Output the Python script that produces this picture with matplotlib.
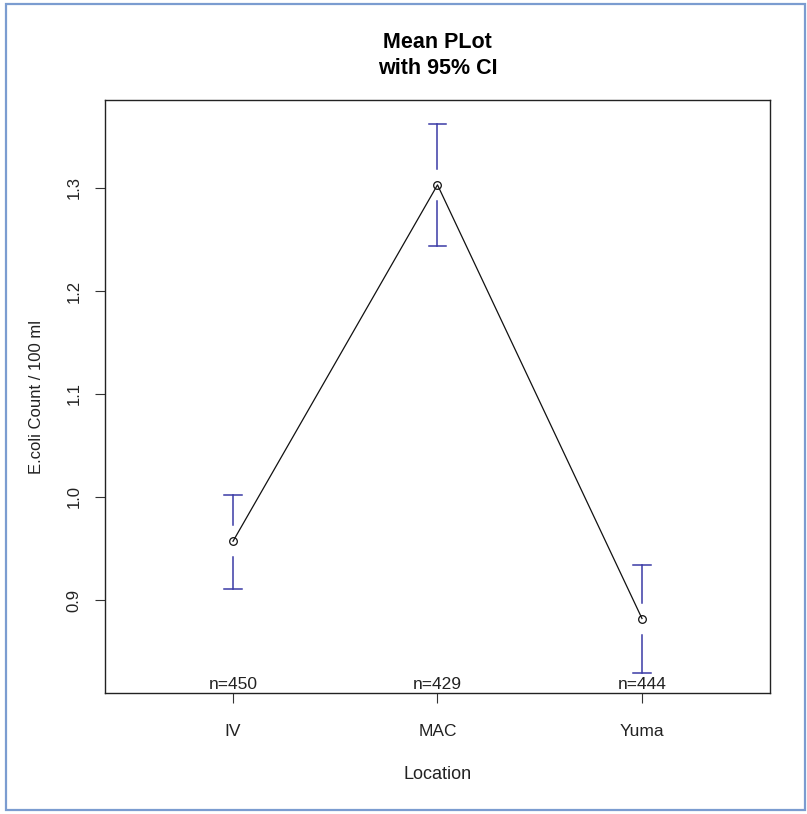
import matplotlib
matplotlib.use("Agg")
import matplotlib.pyplot as plt
from matplotlib.patches import Rectangle

plt.rcParams['font.family'] = ['Liberation Sans', 'DejaVu Sans']

locations = ["IV", "MAC", "Yuma"]
means = [0.957, 1.303, 0.882]
ci_upper = [1.002, 1.362, 0.934]
ci_lower = [0.911, 1.244, 0.829]
n_labels = ["n=450", "n=429", "n=444"]
yticks = [0.9, 1.0, 1.1, 1.2, 1.3]

W, H, DPI = 807, 814, 100
fig = plt.figure(figsize=(W / DPI, H / DPI), dpi=DPI)
fig.patch.set_facecolor("white")

# light blue frame around the figure
fig.patches.append(Rectangle((6 / W, 4 / H), 799 / W, 806 / H, transform=fig.transFigure,
                             fill=False, edgecolor="#7b9cd0", linewidth=1.6))

ax_l, ax_r, ax_t, ax_b = 105, 770, 100, 693
ax = fig.add_axes([ax_l / W, 1 - ax_b / H, (ax_r - ax_l) / W, (ax_b - ax_t) / H])

x = list(range(1, len(locations) + 1))
ylim = (0.8097, 1.3854)
ax.set_xlim(0.374, 3.626)
ax.set_ylim(*ylim)

ax.plot(x, means, color="#111111", linewidth=0.9, marker="o", markersize=5.5,
        markerfacecolor="none", markeredgecolor="#111111", markeredgewidth=0.9, zorder=3)

# error bars with a gap around the mean (pixel gap converted to data units)
px_per_unit = (ax_b - ax_t) / (ylim[1] - ylim[0])
gap = 16 / px_per_unit
cap = 0.042
barcol = "#3b3ba6"
for xi, m, lo, hi in zip(x, means, ci_lower, ci_upper):
    ax.plot([xi, xi], [m + gap, hi], color=barcol, linewidth=1.1)
    ax.plot([xi - cap, xi + cap], [hi, hi], color=barcol, linewidth=1.1)
    ax.plot([xi, xi], [m - gap, lo], color=barcol, linewidth=1.1)
    ax.plot([xi - cap, xi + cap], [lo, lo], color=barcol, linewidth=1.1)

for xi, lab in zip(x, n_labels):
    ax.text(xi, ylim[0] + 0.0005, lab, ha="center", va="bottom", fontsize=12.5, color="#222222")

ax.set_xticks(x)
ax.set_xticklabels(locations, fontsize=12.5)
ax.set_yticks(yticks)
ax.set_yticklabels([f"{v:.1f}" for v in yticks], fontsize=12, rotation=90, va="center")
ax.tick_params(axis="both", direction="out", length=7, width=0.8, color="#333333", labelcolor="#222222")
ax.tick_params(axis="x", pad=15)
ax.tick_params(axis="y", pad=10)
for s in ax.spines.values():
    s.set_linewidth(1.0)
    s.set_color("#222222")

ax.set_xlabel("Location", fontsize=13, labelpad=20, color="#222222")
ax.set_ylabel("E.coli Count / 100 ml", fontsize=12, labelpad=16, color="#222222")

fig.text((ax_l + ax_r) / 2 / W, 1 - 42.5 / H, "Mean PLot", ha="center", va="center",
         fontsize=15.5, fontweight="bold")
fig.text((ax_l + ax_r) / 2 / W, 1 - 68 / H, "with 95% CI", ha="center", va="center",
         fontsize=15.5, fontweight="bold")

fig.savefig("out.png", dpi=DPI)
